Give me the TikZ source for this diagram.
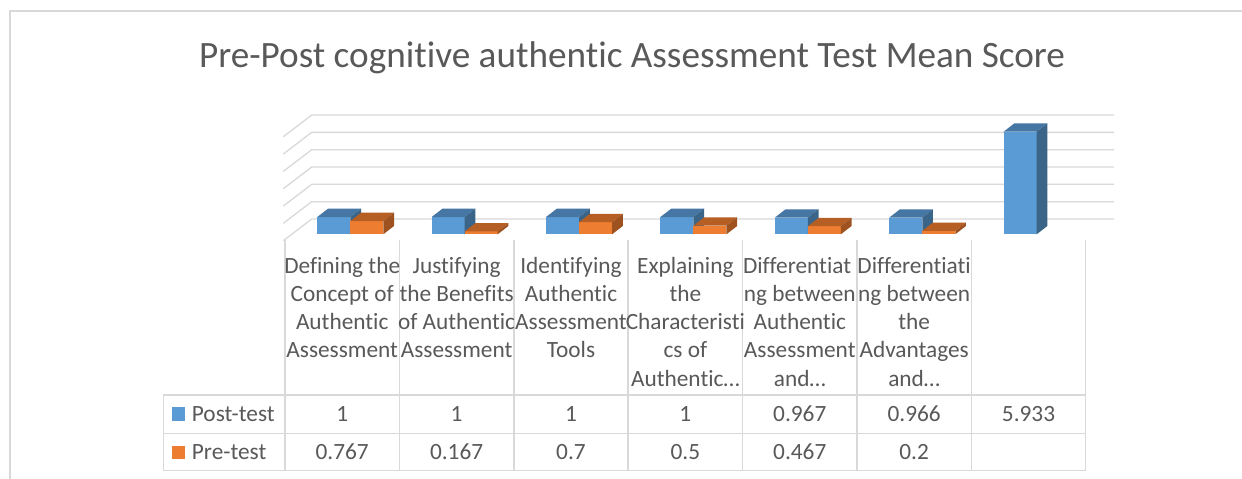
\documentclass[tikz,border=0pt]{standalone}
\usepackage{fontspec}
\setmainfont{Carlito}[Ligatures={NoCommon,NoContextual}]
\definecolor{gridc}{HTML}{D9D9D9}
\definecolor{txt}{HTML}{595959}
\definecolor{bluF}{HTML}{5B9BD5}
\definecolor{bluT}{HTML}{4676A3}
\definecolor{bluS}{HTML}{3A6488}
\definecolor{orgF}{HTML}{ED7D31}
\definecolor{orgT}{HTML}{B65F24}
\definecolor{orgS}{HTML}{9E5220}
\newcommand\cbar[3]{%
  \pgfmathsetmacro\ytop{234.3-17.3*#2}
  \fill[#3F] (#1,234.3) rectangle ({#1+33},\ytop);
  \fill[#3T] (#1,\ytop) -- ({#1+10.7},{\ytop-8.3}) -- ({#1+43.7},{\ytop-8.3}) -- ({#1+33},\ytop) -- cycle;
  \fill[#3S] ({#1+33},234.3) -- ({#1+33},\ytop) -- ({#1+43.7},{\ytop-8.3}) -- ({#1+43.7},{234.3-8.3}) -- cycle;
}
\newcommand\collabels[2]{%
  \foreach \t [count=\j] in {#2} {
    \node[lab] (lab-#1-\j) at ({285+114.39*(#1-0.5)},{273+28.33*(\j-1)}) {\t};
  }
}
\tikzset{
  gridline/.style={draw=gridc, line width=1.3pt},
  tabline/.style={draw=gridc, line width=1.5pt},
  lab/.style={anchor=base, inner sep=0pt, text=txt, font=\fontsize{23.3}{28}\selectfont},
  titlestyle/.style={anchor=base, inner sep=0pt, text=txt, font=\fontsize{37.2}{44}\selectfont},
}
\begin{document}
\begin{tikzpicture}[x=1pt,y=-1pt]
\useasboundingbox (0,0) rectangle (1242,479);
\fill[white] (0,0) rectangle (1242,479);
% chart border
\draw[draw=gridc, line width=1.3pt] (10,11) rectangle (1270,510);
% title
\node[titlestyle] (title) at (632,67.7) {Pre-Post cognitive authentic Assessment Test Mean Score};
% back wall gridlines
\foreach \k in {0,...,6} {
  \pgfmathsetmacro\yy{219-17.33*\k}
  \draw[gridline] (283.3,{\yy+21.7}) -- (311.7,\yy) -- (1114,\yy);
}
% bars
\foreach \v [count=\i from 0] in {1,1,1,1,0.967,0.966,5.933} {
  \pgfmathsetmacro\xx{317.3+114.39*\i}
  \cbar{\xx}{\v}{blu}
}
\foreach \v [count=\i from 0] in {0.767,0.167,0.7,0.5,0.467,0.2} {
  \pgfmathsetmacro\xx{350.3+114.39*\i}
  \cbar{\xx}{\v}{org}
}
% table lines
\foreach \k in {0,...,7} {
  \draw[tabline] ({285+114.39*\k},240) -- ({285+114.39*\k},470.7);
}
\draw[tabline] (163.3,395) -- (163.3,470.7);
\draw[tabline] (163.3,395) -- (1085.7,395);
\draw[tabline] (163.3,433.3) -- (1085.7,433.3);
\draw[tabline] (163.3,470.7) -- (1085.7,470.7);
% category labels
\collabels{1}{Defining the,Concept of,Authentic,Assessment}
\collabels{2}{Justifying,the Benefits,of Authentic,Assessment}
\collabels{3}{Identifying,Authentic,Assessment,Tools}
\collabels{4}{Explaining,the,Characteristi,cs of,Authentic…}
\collabels{5}{Differentiat\phantom{i},ng between,Authentic,Assessment,and…}
\collabels{6}{Differentiati,ng between,the,Advantages,and…}
% legend
\fill[bluF] (172,407.3) rectangle (185.3,420.7);
\fill[orgF] (172,446) rectangle (185.3,459.3);
\node[lab, anchor=base west] (leg-post) at (191.7,421) {Post-test};
\node[lab, anchor=base west] (leg-pre) at (191.7,459.3) {Pre-test};
% values
\foreach \v [count=\i] in {1,1,1,1,0.967,0.966,5.933} {
  \node[lab] (post-\i) at ({285+114.39*(\i-0.5)},421) {\v};
}
\foreach \v [count=\i] in {0.767,0.167,0.7,0.5,0.467,0.2} {
  \node[lab] (pre-\i) at ({285+114.39*(\i-0.5)},459.3) {\v};
}
\end{tikzpicture}
\end{document}
